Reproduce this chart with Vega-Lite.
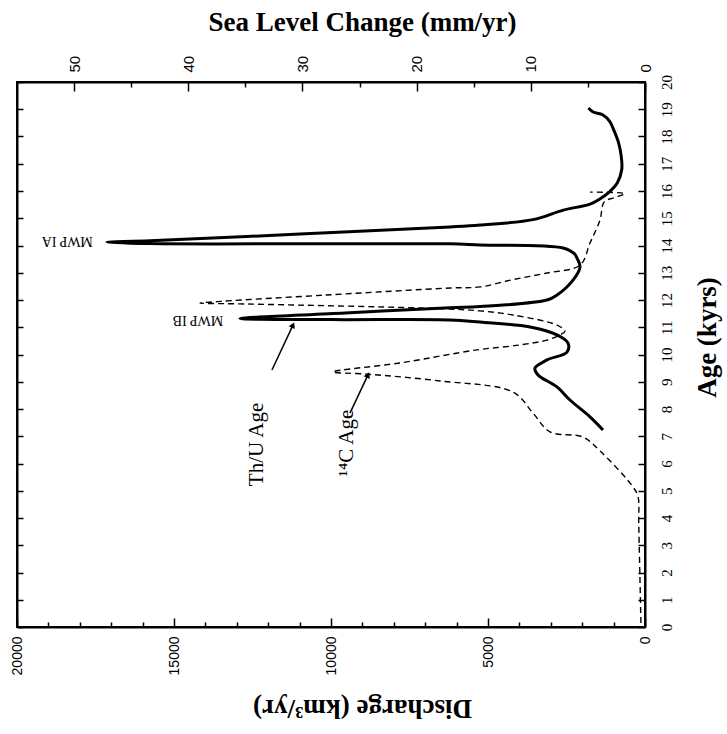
{
  "$schema": "https://vega.github.io/schema/vega-lite/v6.json",
  "width": 628,
  "height": 545,
  "autosize": "none",
  "padding": {"left": 17, "top": 82, "right": 82, "bottom": 107},
  "background": "white",
  "config": {
    "view": {"stroke": "black", "strokeWidth": 2},
    "axis": {"domainColor": "black", "domainWidth": 2, "tickColor": "black", "tickWidth": 1.5, "labelColor": "black", "titleColor": "black", "grid": false, "labelOverlap": false}
  },
  "datasets": {
    "thu": [
      {"age": 19.05, "discharge": 1800}, {"age": 18.9, "discharge": 1650}, {"age": 18.8, "discharge": 1350},
      {"age": 18.55, "discharge": 1120}, {"age": 18.25, "discharge": 1000}, {"age": 17.8, "discharge": 850},
      {"age": 17.3, "discharge": 760}, {"age": 16.8, "discharge": 740}, {"age": 16.3, "discharge": 880},
      {"age": 15.95, "discharge": 1150}, {"age": 15.7, "discharge": 1450}, {"age": 15.52, "discharge": 1750},
      {"age": 15.3, "discharge": 2600}, {"age": 14.95, "discharge": 3570}, {"age": 14.75, "discharge": 5250},
      {"age": 14.68, "discharge": 6210}, {"age": 14.42, "discharge": 10990}, {"age": 14.17, "discharge": 15766},
      {"age": 14.12, "discharge": 17135}, {"age": 14.07, "discharge": 15766}, {"age": 14.065, "discharge": 10000},
      {"age": 14.06, "discharge": 6210}, {"age": 14.02, "discharge": 5255}, {"age": 13.91, "discharge": 2612},
      {"age": 13.7, "discharge": 2250}, {"age": 13.54, "discharge": 2166}, {"age": 13.21, "discharge": 2070},
      {"age": 12.73, "discharge": 2293}, {"age": 12.18, "discharge": 2803}, {"age": 12.0, "discharge": 3121},
      {"age": 11.76, "discharge": 5255}, {"age": 11.72, "discharge": 6210}, {"age": 11.52, "discharge": 9555},
      {"age": 11.32, "discharge": 12900}, {"age": 11.28, "discharge": 10000}, {"age": 11.27, "discharge": 6210},
      {"age": 11.19, "discharge": 5255}, {"age": 11.01, "discharge": 3663}, {"age": 10.72, "discharge": 2803},
      {"age": 10.42, "discharge": 2452}, {"age": 10.09, "discharge": 2484}, {"age": 9.8, "discharge": 3121},
      {"age": 9.5, "discharge": 3504}, {"age": 9.25, "discharge": 3408}, {"age": 8.81, "discharge": 2803},
      {"age": 8.33, "discharge": 2389}, {"age": 7.71, "discharge": 1752}, {"age": 7.23, "discharge": 1338}
    ],
    "c14": [
      {"age": 15.96, "discharge": 1750}, {"age": 15.9, "discharge": 640}, {"age": 15.75, "discharge": 1000},
      {"age": 15.6, "discharge": 1300}, {"age": 14.94, "discharge": 1433}, {"age": 14.09, "discharge": 1752},
      {"age": 13.28, "discharge": 2070}, {"age": 12.99, "discharge": 3121}, {"age": 12.75, "discharge": 4200},
      {"age": 12.48, "discharge": 5255}, {"age": 12.44, "discharge": 6210}, {"age": 12.18, "discharge": 10190},
      {"age": 11.95, "discharge": 13500}, {"age": 11.89, "discharge": 14170}, {"age": 11.85, "discharge": 12500},
      {"age": 11.67, "discharge": 6211}, {"age": 11.6, "discharge": 5255}, {"age": 11.45, "discharge": 4204},
      {"age": 11.08, "discharge": 2803}, {"age": 10.86, "discharge": 2548}, {"age": 10.72, "discharge": 2707},
      {"age": 10.53, "discharge": 3121}, {"age": 10.35, "discharge": 3981}, {"age": 10.17, "discharge": 5350},
      {"age": 9.69, "discharge": 7803}, {"age": 9.36, "discharge": 9937}, {"age": 9.28, "discharge": 8854},
      {"age": 9.03, "discharge": 6529}, {"age": 8.62, "discharge": 4204}, {"age": 7.85, "discharge": 3567},
      {"age": 7.16, "discharge": 3026}, {"age": 6.97, "discharge": 1975}, {"age": 6.46, "discharge": 1433},
      {"age": 5.14, "discharge": 382}, {"age": 4.77, "discharge": 220}, {"age": 3.82, "discharge": 200},
      {"age": 0.15, "discharge": 130}
    ],
    "peaks": [
      {"label": "MWP IA", "age": 14.15, "discharge": 18400},
      {"label": "MWP IB", "age": 11.27, "discharge": 14237}
    ],
    "series": [
      {"label": "Th/U Age", "age": 6.7, "discharge": 12358},
      {"label": "¹⁴C Age", "age": 6.75, "discharge": 9491}
    ],
    "arrows": [
      {"age": 9.43, "discharge": 11880, "age2": 11.08, "discharge2": 11211},
      {"age": 7.85, "discharge": 9396, "age2": 9.25, "discharge2": 8822}
    ],
    "frame": [
      {"slr": 0, "age": 0}, {"slr": 55, "age": 20}
    ]
  },
  "resolve": {"scale": {"x": "independent"}, "axis": {"y": "independent"}},
  "layer": [
    {
      "encoding": {
        "x": {
          "field": "discharge", "type": "quantitative",
          "scale": {"domain": [0, 20000], "reverse": true, "nice": false, "zero": false},
          "axis": {
            "orient": "bottom",
            "values": [0,1000,2000,3000,4000,5000,6000,7000,8000,9000,10000,11000,12000,13000,14000,15000,16000,17000,18000,19000,20000],
            "format": "d",
            "labelExpr": "datum.value % 5000 === 0 ? datum.label : ''",
            "tickSize": {"condition": {"test": "datum.value % 5000 === 0", "value": -9}, "value": -5},
            "labelPadding": 18,
            "labelAngle": 270, "labelAlign": "right", "labelBaseline": "middle",
            "labelFont": "Liberation Sans", "labelFontSize": 14,
            "title": "Discharge (km³/yr)",
            "titleFont": "Liberation Serif", "titleFontWeight": "bold", "titleFontSize": 27,
            "titleAngle": 180, "titleX": 345, "titleY": 80, "titleAlign": "center", "titleBaseline": "middle"
          }
        },
        "y": {
          "field": "age", "type": "quantitative",
          "scale": {"domain": [0, 20], "nice": false, "zero": false},
          "axis": {
            "orient": "right",
            "values": [0,1,2,3,4,5,6,7,8,9,10,11,12,13,14,15,16,17,18,19,20],
            "tickSize": -7,
            "labelPadding": 21,
            "labelAngle": 270, "labelAlign": "center", "labelBaseline": "top",
            "labelFont": "Liberation Serif", "labelFontSize": 15,
            "title": "Age (kyrs)",
            "titleFont": "Liberation Serif", "titleFontWeight": "bold", "titleFontSize": 27,
            "titleAngle": 270, "titleX": 62, "titleY": 255, "titleAlign": "center", "titleBaseline": "middle"
          }
        }
      },
      "layer": [
        {
          "data": {"name": "c14"},
          "mark": {"type": "line", "color": "black", "strokeWidth": 1.4, "strokeDash": [6, 4], "interpolate": "catmull-rom"},
          "encoding": {"order": {"field": "age", "type": "quantitative"}}
        },
        {
          "data": {"name": "thu"},
          "mark": {"type": "line", "color": "black", "strokeWidth": 3, "interpolate": "catmull-rom"},
          "encoding": {"order": {"field": "age", "type": "quantitative"}}
        },
        {
          "data": {"name": "arrows"},
          "mark": {"type": "rule", "color": "black", "strokeWidth": 1.5},
          "encoding": {"x2": {"field": "discharge2"}, "y2": {"field": "age2"}}
        },
        {
          "data": {"name": "arrows"},
          "mark": {"type": "point", "shape": "triangle-up", "filled": true, "color": "black", "size": 45, "angle": 25, "opacity": 1},
          "encoding": {
            "x": {"field": "discharge2", "type": "quantitative"},
            "y": {"field": "age2", "type": "quantitative"}
          }
        },
        {
          "data": {"name": "peaks"},
          "mark": {"type": "text", "angle": 180, "font": "Liberation Serif", "fontSize": 14, "color": "black", "align": "center", "baseline": "middle"},
          "encoding": {"text": {"field": "label"}}
        },
        {
          "data": {"name": "series"},
          "mark": {"type": "text", "angle": 270, "font": "Liberation Serif", "fontSize": 21, "color": "black", "align": "center", "baseline": "middle"},
          "encoding": {"text": {"field": "label"}}
        }
      ]
    },
    {
      "data": {"name": "frame"},
      "mark": {"type": "point", "opacity": 0},
      "encoding": {
        "x": {
          "field": "slr", "type": "quantitative",
          "scale": {"domain": [0, 55], "reverse": true, "nice": false, "zero": false},
          "axis": {
            "orient": "top",
            "values": [0,5,10,15,20,25,30,35,40,45,50],
            "labelExpr": "datum.value % 10 === 0 ? datum.label : ''",
            "tickSize": {"condition": {"test": "datum.value % 10 === 0", "value": -9}, "value": -5},
            "labelPadding": 19,
            "labelAngle": 270, "labelAlign": "left", "labelBaseline": "middle",
            "labelFont": "Liberation Sans", "labelFontSize": 15,
            "title": "Sea Level Change (mm/yr)",
            "titleFont": "Liberation Serif", "titleFontWeight": "bold", "titleFontSize": 27,
            "titleAngle": 0, "titleX": 345, "titleY": -60, "titleAlign": "center", "titleBaseline": "middle"
          }
        },
        "y": {
          "field": "age", "type": "quantitative",
          "scale": {"domain": [0, 20], "nice": false, "zero": false},
          "axis": {
            "orient": "left",
            "values": [0,1,2,3,4,5,6,7,8,9,10,11,12,13,14,15,16,17,18,19,20],
            "tickSize": -6,
            "labels": false,
            "title": null
          }
        }
      }
    }
  ]
}
